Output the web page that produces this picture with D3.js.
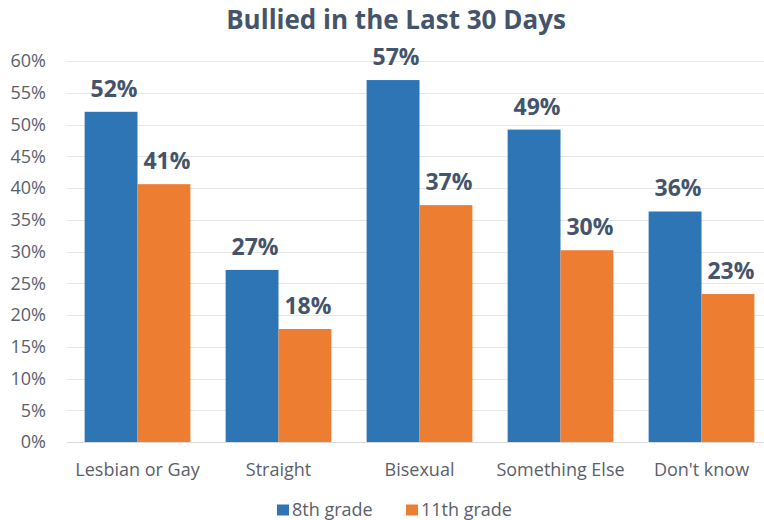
<!DOCTYPE html>
<html>
<head>
<meta charset="utf-8">
<script src="https://cdn.jsdelivr.net/npm/d3@7"></script>
<style>
  body { margin: 0; background: #fff; }
  text { font-family: "Open Sans", Lato, sans-serif; }
</style>
</head>
<body>
<script>
// chart data
let categories = ["Lesbian or Gay", "Straight", "Bisexual", "Something Else", "Don't know"];
let grade8 = [52, 27.1, 57, 49.2, 36.3];
let grade11 = [40.6, 17.8, 37.3, 30.2, 23.3];
let seriesNames = ["8th grade", "11th grade"];
let yTicks = [0, 5, 10, 15, 20, 25, 30, 35, 40, 45, 50, 55, 60];

let colors = ["#2e75b6", "#ed7d31"];
let textColor = "#44546a";
let axisColor = "#5a606b";

let width = 764, height = 520;
let plot = { left: 67, right: 772, top: 61, bottom: 442 };

let svg = d3.select("body").append("svg")
    .attr("width", width)
    .attr("height", height);

let x = d3.scaleBand()
    .domain(categories)
    .range([plot.left, plot.right])
    .paddingInner(0.25)
    .paddingOuter(0.125);

let inner = d3.scaleBand()
    .domain(seriesNames)
    .range([0, x.bandwidth()]);

let y = d3.scaleLinear()
    .domain([0, 60])
    .range([plot.bottom, plot.top]);

// gridlines
svg.append("g")
    .selectAll("line")
    .data(yTicks)
    .enter()
    .append("line")
    .attr("x1", plot.left)
    .attr("x2", plot.right)
    .attr("y1", d => Math.round(y(d)) + 0.5)
    .attr("y2", d => Math.round(y(d)) + 0.5)
    .attr("stroke", d => d === 0 ? "#d9d9d9" : "#e6e6e6")
    .attr("stroke-width", 1);

// y axis labels
let yAxis = d3.axisLeft(y)
    .tickValues(yTicks)
    .tickFormat(d => d + "%")
    .tickSize(0)
    .tickPadding(21);

let yg = svg.append("g")
    .attr("transform", "translate(" + plot.left + ",0)")
    .call(yAxis);
yg.select(".domain").remove();
yg.selectAll("text")
    .attr("fill", axisColor)
    .style("font-size", "18px");

// x axis labels
let xAxis = d3.axisBottom(x).tickSize(0);
let xg = svg.append("g")
    .attr("transform", "translate(0," + plot.bottom + ")")
    .call(xAxis);
xg.select(".domain").remove();
xg.selectAll("text")
    .attr("y", 34)
    .attr("dy", null)
    .attr("fill", axisColor)
    .style("font-size", "18px");

// bars
let rows = categories.map((c, i) => ({ cat: c, vals: [grade8[i], grade11[i]] }));

let groups = svg.selectAll(".group")
    .data(rows)
    .enter()
    .append("g")
    .attr("class", "group")
    .attr("transform", d => "translate(" + x(d.cat) + ",0)");

groups.selectAll("rect")
    .data(d => d.vals.map((v, j) => ({ name: seriesNames[j], v: v, j: j })))
    .enter()
    .append("rect")
    .attr("x", d => inner(d.name))
    .attr("width", inner.bandwidth())
    .attr("y", d => y(d.v))
    .attr("height", d => y(0) - y(d.v))
    .attr("fill", d => colors[d.j]);

groups.selectAll(".lbl")
    .data(d => d.vals.map((v, j) => ({ name: seriesNames[j], v: v })))
    .enter()
    .append("text")
    .attr("class", "lbl")
    .attr("x", d => inner(d.name) + inner.bandwidth() / 2 + 3)
    .attr("y", d => y(d.v) - 15)
    .attr("text-anchor", "middle")
    .attr("fill", textColor)
    .style("font-size", "23px")
    .style("font-weight", "bold")
    .text(d => Math.round(d.v) + "%");

// title
svg.append("text")
    .attr("x", 396)
    .attr("y", 29)
    .attr("text-anchor", "middle")
    .attr("fill", textColor)
    .style("font-size", "26px")
    .style("font-weight", "bold")
    .text("Bullied in the Last 30 Days");

// legend
let legendX = [277, 406];
let legend = svg.selectAll(".legend")
    .data(seriesNames)
    .enter()
    .append("g")
    .attr("class", "legend")
    .attr("transform", (d, i) => "translate(" + legendX[i] + ",510)");

legend.append("rect")
    .attr("x", 0)
    .attr("y", -5.5)
    .attr("width", 12)
    .attr("height", 11)
    .attr("fill", (d, i) => colors[i]);

legend.append("text")
    .attr("x", 15)
    .attr("y", 6)
    .attr("fill", axisColor)
    .style("font-size", "18px")
    .text(d => d);
</script>
</body>
</html>
